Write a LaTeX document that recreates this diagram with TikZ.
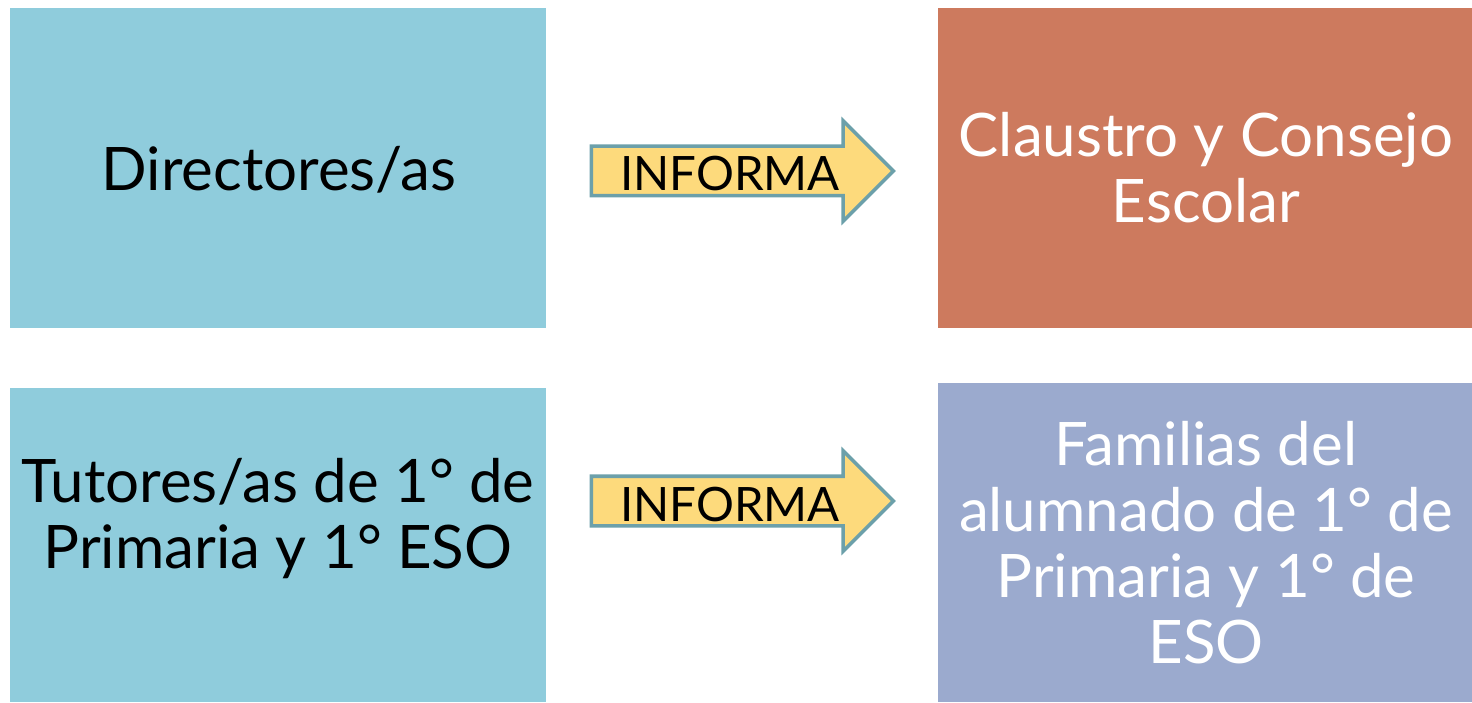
\documentclass[tikz,border=0pt]{standalone}
\usepackage{fontspec}
\setmainfont{Lato}
\usetikzlibrary{shapes.arrows}

\definecolor{azulcaja}{HTML}{8FCCDC}
\definecolor{naranja}{HTML}{CD7A5E}
\definecolor{lila}{HTML}{9BAACE}
\definecolor{amarillo}{HTML}{FDDA7C}
\definecolor{borde}{HTML}{6CA0AA}

\tikzset{
	caja/.style={inner sep=0pt, outer sep=0pt},
	texto/.style={align=center, font=\fontsize{30}{33}\selectfont},
	flecha/.style={single arrow, draw=borde, fill=amarillo, line width=1.75pt,
		single arrow head extend=12.75pt, minimum height=151pt,
		inner xsep=0pt, inner ysep=1.5pt, text height=20pt, text depth=0pt,
		font=\fontsize{23.7}{26}\selectfont}
}

\begin{document}
\begin{tikzpicture}[x=1pt, y=1pt]
	\useasboundingbox (0,0) rectangle (736,351); % Rand wie Vorlage
	
	% Kaesten
	\node[caja, fill=azulcaja, minimum width=268pt, minimum height=160pt] (dir) at (139,267) {};
	\node[caja, fill=naranja, minimum width=267pt, minimum height=160pt] (claustro) at (602.5,267) {};
	\node[caja, fill=azulcaja, minimum width=268pt, minimum height=157pt] (tut) at (139,78.5) {};
	\node[caja, fill=lila, minimum width=267pt, minimum height=159.5pt] (fam) at (602.5,79.75) {};
	
	% Texte
	\node[texto, anchor=base] (dirtexto) at (139.5,255.5) {Directores/as};
	\node[texto, white] (claustrotexto) at (603,267) {Claustro y Consejo\\Escolar};
	\node[texto] (tuttexto) at (139,91.5) {Tutores/as de 1° de\\Primaria y 1° ESO};
	\node[texto, white] (famtexto) at (603,79.75) {Familias del\\alumnado de 1° de\\Primaria y 1° de\\ESO};
	
	% Pfeile
	\node[flecha] (informa1) at (365,265.5) {INFORMA};
	\node[flecha] (informa2) at (365,100.5) {INFORMA};
\end{tikzpicture}
\end{document}
